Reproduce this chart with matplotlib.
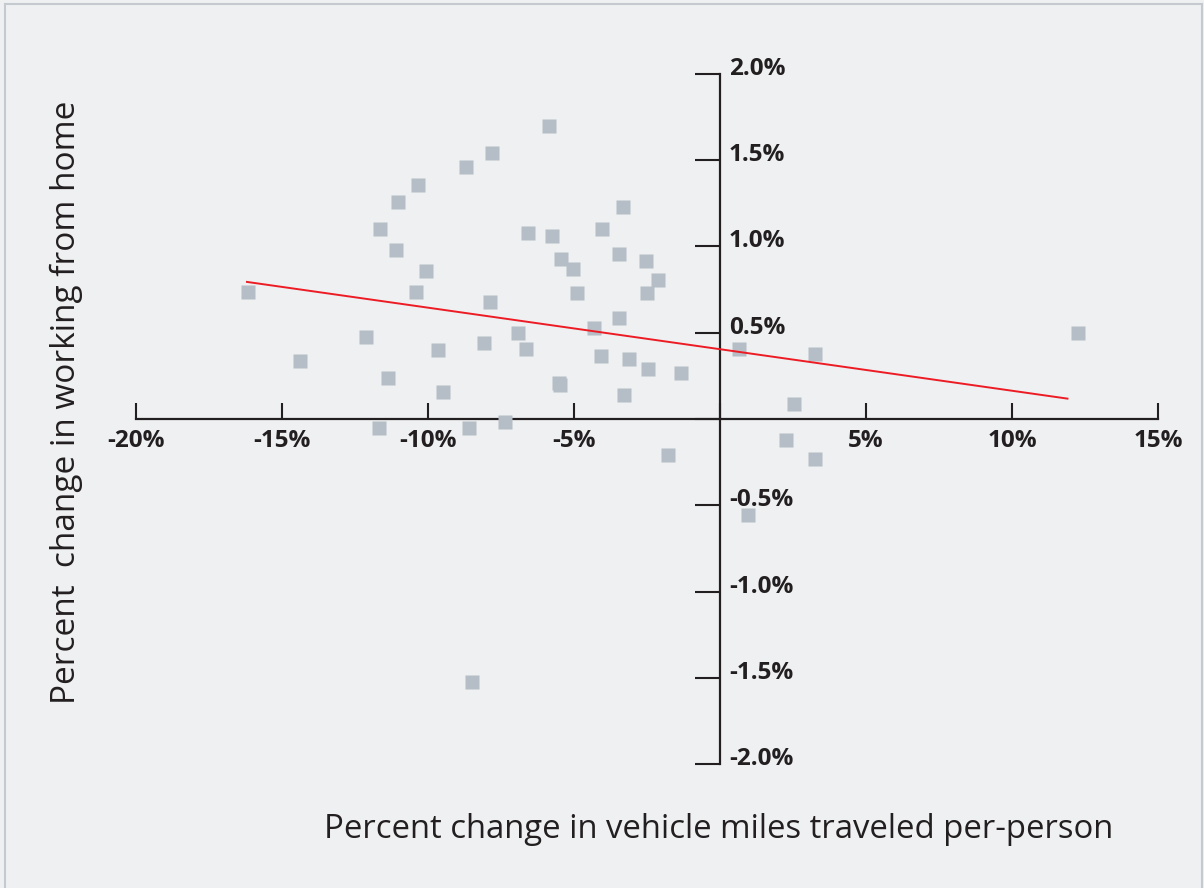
import matplotlib
matplotlib.use("Agg")
import matplotlib.pyplot as plt
from matplotlib.lines import Line2D
from matplotlib.transforms import offset_copy

plt.rcParams['font.family'] = ['Open Sans', 'DejaVu Sans']

# Data (percent values)
vmt_change = [-16.18, -7.82, -8.70, -10.34, -11.02, -11.64, -11.09, -10.07, -10.41, -7.88,
              -12.12, -8.09, -9.66, -14.37, -11.37, -9.49, -11.67, -8.60, -7.37, -5.84,
              -3.31, -6.59, -5.77, -4.03, -5.46, -5.02, -3.45, -2.53, -2.12, -4.91,
              -2.49, -3.45, -4.33, -6.93, -6.66, -4.06, -3.11, -2.46, -1.33, -5.53,
              -5.49, -3.28, -1.77, 0.65, 3.24, 12.25, 2.53, 2.25, 3.24, 0.96, -8.50]
wfh_change = [0.736, 1.54, 1.46, 1.355, 1.257, 1.10, 0.979, 0.857, 0.736, 0.678,
              0.475, 0.44, 0.40, 0.336, 0.237, 0.156, -0.052, -0.052, -0.017, 1.697,
              1.228, 1.077, 1.06, 1.10, 0.927, 0.869, 0.956, 0.915, 0.805, 0.73,
              0.73, 0.585, 0.527, 0.498, 0.405, 0.365, 0.348, 0.29, 0.266, 0.209,
              0.197, 0.139, -0.21, 0.405, 0.376, 0.498, 0.087, -0.122, -0.232, -0.556, -1.523]

trend_x = [-16.2, 11.9]
trend_y = [0.794, 0.118]

x_ticks = [-20, -15, -10, -5, 0, 5, 10, 15]
x_labels = ['-20%', '-15%', '-10%', '-5%', '', '5%', '10%', '15%']
y_ticks = [-2.0, -1.5, -1.0, -0.5, 0.0, 0.5, 1.0, 1.5, 2.0]
y_labels = ['-2.0%', '-1.5%', '-1.0%', '-0.5%', '', '0.5%', '1.0%', '1.5%', '2.0%']

bg = '#eef0f2'
ink = '#231f20'

fig = plt.figure(figsize=(12.04, 8.88), dpi=100, facecolor=bg)
ax = fig.add_axes([136 / 1204, (888 - 764.3) / 888, (1158 - 136) / 1204, 690.6 / 888])
ax.set_facecolor(bg)
ax.set_xlim(-20, 15)
ax.set_ylim(-2, 2)

ax.plot(vmt_change, wfh_change, 's', ms=10, color='#b5bdc6', mec='none', zorder=3, clip_on=False)
ax.plot(trend_x, trend_y, '-', color='#ed1c24', lw=1.4, zorder=4)

for side in ['top', 'right']:
    ax.spines[side].set_visible(False)
ax.spines['left'].set_position(('data', 0))
ax.spines['bottom'].set_position(('data', 0))
for side in ['left', 'bottom']:
    ax.spines[side].set_color(ink)
    ax.spines[side].set_linewidth(1.6)

ax.set_xticks(x_ticks)
ax.set_xticklabels(x_labels)
ax.tick_params(axis='x', direction='in', length=11.5, width=1.5, color=ink, pad=7.5,
               labelsize=17.5, labelcolor=ink)
for lab in ax.get_xticklabels():
    lab.set_fontweight('bold')

ax.set_yticks(y_ticks)
ax.tick_params(axis='y', direction='out', length=18, width=1.5, color=ink, labelleft=False)
lab_tr = offset_copy(ax.transData, fig=fig, x=9, y=5, units='dots')
for v, s in zip(y_ticks, y_labels):
    ax.text(0, v, s, transform=lab_tr, ha='left', va='center', fontsize=17.5,
            fontweight='bold', color=ink)

fig.text(719 / 1204, 1 - 838 / 888, 'Percent change in vehicle miles traveled per-person',
         ha='center', va='baseline', fontsize=23.7, color=ink)
fig.text(66 / 1204, 1 - 402 / 888, 'Percent  change in working from home',
         ha='center', va='center', rotation=90, fontsize=24, color=ink)

# thin frame around the panel
frame_c = '#c5cad1'
fig.add_artist(Line2D([4.5 / 1204, 4.5 / 1204], [0, 1 - 4.5 / 888], transform=fig.transFigure,
                      color=frame_c, lw=1.5))
fig.add_artist(Line2D([4.5 / 1204, 1201.5 / 1204], [1 - 4.5 / 888, 1 - 4.5 / 888],
                      transform=fig.transFigure, color=frame_c, lw=1.5))
fig.add_artist(Line2D([1201.5 / 1204, 1201.5 / 1204], [0, 1 - 4.5 / 888], transform=fig.transFigure,
                      color=frame_c, lw=1.5))

fig.savefig('out.png', dpi=100, facecolor=bg)
